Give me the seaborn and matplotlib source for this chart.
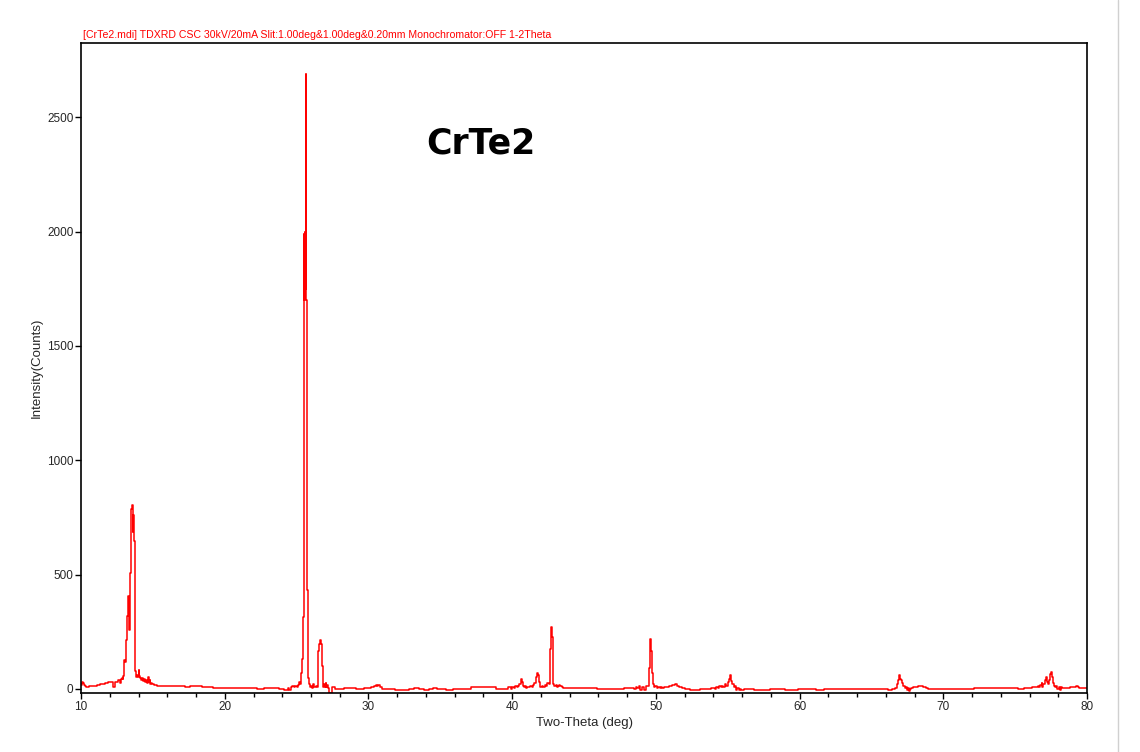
import pandas as pd
import numpy as np
import matplotlib
matplotlib.use('Agg')
import matplotlib.pyplot as plt
import seaborn as sns
from matplotlib.ticker import MultipleLocator
from matplotlib.lines import Line2D

# Данные дифрактограммы CrTe2
two_theta = [
    10.00, 10.05, 10.10, 10.15, 10.20, 10.30, 10.40, 10.50, 10.60, 10.80,
    11.00, 11.20, 11.40, 11.60, 11.80, 12.00, 12.20, 12.30, 12.36, 12.45,
    12.55, 12.65, 12.72, 12.78, 12.85, 12.92, 12.97, 13.02, 13.08, 13.14,
    13.20, 13.25, 13.30, 13.35, 13.40, 13.46, 13.51, 13.56, 13.60, 13.64,
    13.69, 13.75, 13.80, 13.86, 13.92, 13.98, 14.04, 14.08, 14.14, 14.20,
    14.28, 14.34, 14.40, 14.48, 14.56, 14.62, 14.68, 14.74, 14.80, 14.86,
    14.92, 15.00, 15.20, 15.40, 15.80, 16.20, 16.60, 17.00, 17.40, 17.80,
    18.20, 18.60, 19.00, 19.40, 19.80, 20.50, 21.00, 21.50, 22.00, 22.50,
    23.00, 23.50, 24.00, 24.30, 24.45, 24.55, 24.65, 24.75, 24.85, 24.95,
    25.05, 25.15, 25.22, 25.30, 25.36, 25.42, 25.48, 25.52, 25.56, 25.60,
    25.63, 25.66, 25.70, 25.74, 25.80, 25.86, 25.92, 25.98, 26.04, 26.10,
    26.16, 26.22, 26.28, 26.36, 26.44, 26.52, 26.60, 26.67, 26.74, 26.80,
    26.86, 26.92, 26.98, 27.04, 27.10, 27.16, 27.22, 27.30, 27.40, 27.48,
    27.60, 27.70, 28.95, 29.25, 30.10, 30.30, 30.45, 30.55, 30.62, 30.70,
    30.85, 31.00, 32.75, 32.90, 33.40, 33.65, 34.10, 34.25, 34.70, 34.90,
    35.85, 35.95, 38.30, 38.50, 38.80, 38.95, 39.50, 39.85, 39.95, 40.05,
    40.15, 40.25, 40.35, 40.45, 40.55, 40.62, 40.70, 40.78, 40.86, 40.94,
    41.02, 41.10, 41.20, 41.30, 41.40, 41.50, 41.60, 41.70, 41.78, 41.85,
    41.92, 42.00, 42.10, 42.20, 42.30, 42.40, 42.50, 42.58, 42.65, 42.72,
    42.78, 42.84, 42.90, 42.98, 43.06, 43.14, 43.22, 43.30, 43.40, 43.50,
    43.60, 45.80, 46.00, 47.00, 47.20, 48.40, 48.55, 48.65, 48.75, 48.85,
    48.95, 49.05, 49.15, 49.25, 49.35, 49.45, 49.55, 49.62, 49.68, 49.75,
    49.82, 49.90, 50.00, 50.10, 50.20, 50.30, 50.40, 50.50, 50.60, 50.80,
    51.00, 51.20, 51.40, 51.55, 51.70, 51.90, 52.10, 52.60, 53.60, 54.00,
    54.15, 54.25, 54.35, 54.45, 54.55, 54.65, 54.75, 54.85, 54.95, 55.05,
    55.12, 55.20, 55.28, 55.36, 55.44, 55.52, 55.60, 55.70, 55.80, 55.90,
    56.00, 56.20, 57.40, 58.50, 59.50, 60.20, 60.90, 61.40, 62.00, 62.50,
    63.00, 63.30, 64.30, 66.00, 66.30, 66.50, 66.70, 66.80, 66.88, 66.96,
    67.02, 67.10, 67.18, 67.26, 67.34, 67.42, 67.50, 67.58, 67.66, 67.74,
    67.82, 67.95, 68.10, 68.30, 68.50, 68.70, 68.85, 69.00, 75.20, 75.25,
    76.00, 76.30, 76.50, 76.60, 76.70, 76.80, 76.86, 76.92, 77.00, 77.08,
    77.15, 77.22, 77.30, 77.38, 77.46, 77.52, 77.58, 77.66, 77.74, 77.82,
    77.90, 77.98, 78.06, 78.14, 78.22, 78.30, 78.40, 79.20, 79.30, 79.40,
    79.50, 80.00,
]
counts = [
    22, 18, 30, 26, 16, 14, 8, 10, 14, 12,
    14, 18, 20, 22, 26, 28, 30, 10, 28, 30,
    32, 40, 26, 44, 48, 42, 55, 125, 118, 215,
    220, 318, 405, 258, 325, 505, 785, 805, 685, 760,
    645, 258, 76, 54, 60, 52, 84, 58, 46, 40,
    48, 36, 42, 30, 38, 25, 52, 28, 40, 20,
    26, 20, 18, 14, 13, 14, 12, 13, 9, 12,
    11, 7, 6, 4, 3, 3, 4, 2, 3, 1,
    3, 2, 0, -5, 2, -6, 8, 12, 6, 14,
    8, 18, 30, 22, 70, 130, 316, 1990, 1700, 2000,
    1750, 2690, 1700, 433, 48, 32, 20, 8, 14, 4,
    20, 10, 6, 12, 10, 166, 197, 214, 197, 100,
    10, 22, 6, 25, 10, 18, 2, -16, -16, 7,
    7, 0, 4, 0, 4, 8, 12, 18, 12, 16,
    8, 0, -4, 0, 4, 0, -4, 0, 4, 0,
    -3, 0, 6, 8, 6, 0, 0, 6, -2, 8,
    4, 12, 6, 14, 20, 44, 30, 14, 8, 12,
    4, 10, 6, 12, 8, 16, 24, 50, 71, 60,
    30, 8, 14, 10, 18, 12, 24, 20, 175, 271,
    225, 93, 22, 12, 16, 8, 14, 16, 12, 8,
    2, 4, 1, -1, 0, 4, -2, 8, 2, 12,
    -4, 10, 6, -6, 14, 12, 93, 220, 166, 71,
    22, 8, 12, 4, 10, 2, 8, 4, 6, 8,
    12, 16, 20, 14, 8, 3, 0, -3, 0, 4,
    -2, 6, 4, 12, 6, 14, 10, 20, 12, 30,
    45, 61, 35, 22, 10, 14, -4, 2, -6, 0,
    -3, 0, -4, 0, -3, 0, -2, -3, 0, -2,
    0, -2, 0, -2, -4, -1, 2, 20, 40, 62,
    45, 39, 26, 14, 4, 10, -6, 2, -8, 0,
    4, 6, 8, 12, 14, 10, 4, 0, 2, 0,
    4, 6, 8, 12, 6, 18, 25, 10, 20, 38,
    54, 30, 20, 40, 64, 74, 50, 24, 12, 6,
    14, -2, 8, -4, 6, 2, 5, 8, 12, 8,
    2, 2,
]

df = pd.DataFrame({'two_theta': two_theta, 'counts': counts})

header = ('[CrTe2.mdi] TDXRD CSC 30kV/20mA Slit:1.00deg&1.00deg&0.20mm '
          'Monochromator:OFF 1-2Theta')

sns.set_style('white')
plt.rcParams['font.family'] = ['Liberation Sans', 'DejaVu Sans']

fig = plt.figure(figsize=(11.4, 7.52), dpi=100)
ax = fig.add_axes([0.0711, 0.0785, 0.8825, 0.8644])

sns.lineplot(data=df, x='two_theta', y='counts', ax=ax, color='#ff0000',
             linewidth=1.1, estimator=None, sort=False, drawstyle='steps-mid')

ax.set_xlim(10, 80)
ax.set_ylim(-18, 2825)
ax.xaxis.set_major_locator(MultipleLocator(10))
ax.xaxis.set_minor_locator(MultipleLocator(2))
ax.yaxis.set_major_locator(MultipleLocator(500))

for s in ax.spines.values():
    s.set_color('black')
    s.set_linewidth(1.2)

ax.tick_params(axis='both', which='major', direction='out', length=4,
               width=1, color='black', labelsize=8.5, pad=1.5,
               bottom=True, left=True)
ax.tick_params(axis='x', which='minor', direction='out', length=3,
               width=1, color='black', bottom=True)

ax.set_xlabel('Two-Theta (deg)', fontsize=9.5, labelpad=3)
ax.set_ylabel('Intensity(Counts)', fontsize=9.5, labelpad=3)

ax.text(0.002, 1.004, header, transform=ax.transAxes, color='#ff0000',
        fontsize=7.6, ha='left', va='bottom')
ax.text(0.397, 0.845, 'CrTe2', transform=ax.transAxes, fontsize=25,
        fontweight='bold', family='DejaVu Sans', ha='center', va='center',
        color='black')

# тонкая серая линия у правого края
fig.add_artist(Line2D([0.9807, 0.9807], [0, 1], transform=fig.transFigure,
                      color='#d0d0d0', linewidth=1))

fig.savefig('out.png', dpi=100)
